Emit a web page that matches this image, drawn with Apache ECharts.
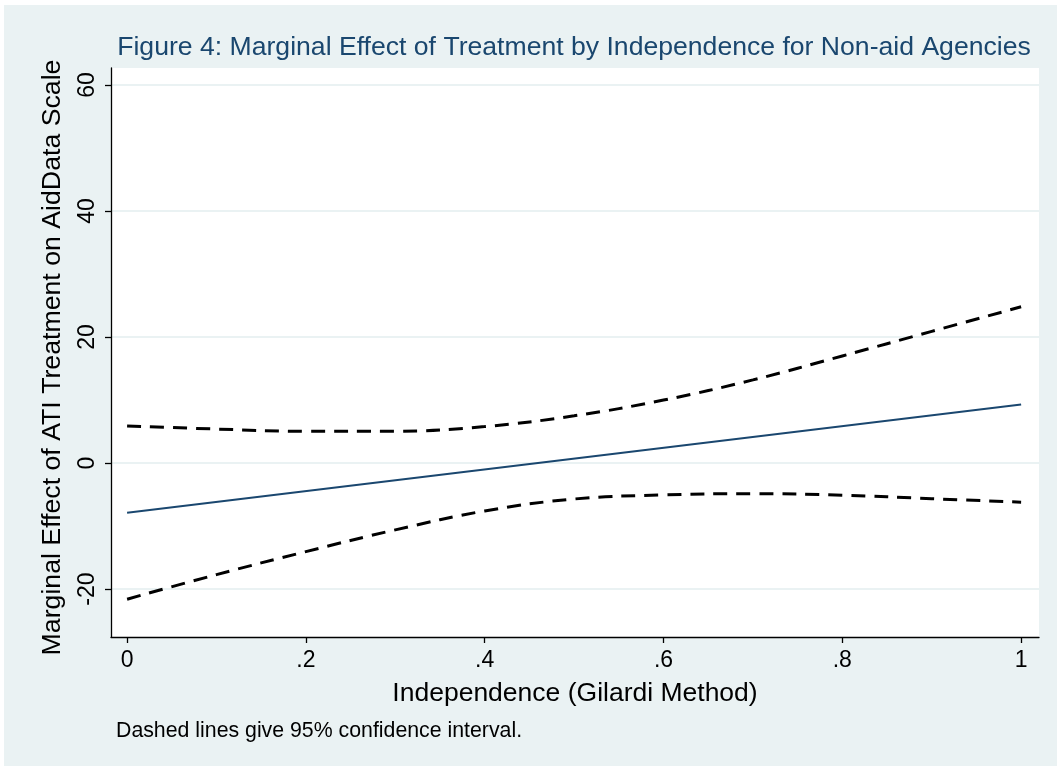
<!DOCTYPE html>
<html>
<head>
<meta charset="utf-8">
<script src="https://cdn.jsdelivr.net/npm/echarts@6/dist/echarts.min.js"></script>
<style>
  html, body { margin: 0; padding: 0; background: #ffffff; }
  #chart { width: 1057px; height: 767px; }
</style>
</head>
<body>
<div id="chart"></div>
<script>
// Independence values where the curves are evaluated
const independence = [0, 0.1, 0.2, 0.3, 0.4, 0.5, 0.6, 0.7, 0.8, 0.9, 1];
// Upper and lower bounds of the 95% confidence interval
const upperCI = [5.9, 5.4, 5.05, 5.05, 5.8, 7.5, 10.0, 13.2, 17.0, 20.9, 24.8];
const lowerCI = [-21.6, -17.7, -14.05, -10.6, -7.6, -5.7, -5.05, -4.85, -5.1, -5.65, -6.2];
// Marginal effect (straight line between its end points)
const effectX = [0, 1];
const effectY = [-7.9, 9.3];
// Tick positions
const xTicks = [0, 0.2, 0.4, 0.6, 0.8, 1];
const yTicks = [-20, 0, 20, 40, 60];

const titleText = 'Figure 4: Marginal Effect of Treatment by Independence for Non-aid Agencies';
const noteText = 'Dashed lines give 95% confidence interval.';
const xName = 'Independence (Gilardi Method)';
const yName = 'Marginal Effect of ATI Treatment on AidData Scale';

const pairs = (xs, ys) => xs.map((x, i) => [x, ys[i]]);

const font = '"Liberation Sans", Arial, Helvetica, sans-serif';

const chart = echarts.init(document.getElementById('chart'), null, { renderer: 'canvas' });

chart.setOption({
  backgroundColor: '#ffffff',
  animation: false,
  graphic: [{
    type: 'rect',
    z: -100,
    shape: { x: 4, y: 5, width: 1053, height: 761 },
    style: { fill: '#eaf2f3' },
    silent: true
  }],
  title: [{
    text: titleText,
    left: 574,
    textAlign: 'center',
    top: 34,
    padding: 0,
    textStyle: { fontFamily: font, fontSize: 26.6, fontWeight: 'normal', color: '#1a476f' }
  }, {
    text: noteText,
    left: 116,
    top: 721,
    padding: 0,
    textStyle: { fontFamily: font, fontSize: 21.3, fontWeight: 'normal', color: '#000000' }
  }],
  grid: {
    left: 111, right: 18, top: 68, bottom: 130,
    show: true, backgroundColor: '#ffffff', borderWidth: 0
  },
  xAxis: {
    type: 'value',
    min: -0.018, max: 1.02,
    name: xName,
    nameLocation: 'middle',
    nameGap: 43,
    nameTextStyle: { fontFamily: font, fontSize: 26.5, color: '#000000' },
    axisLine: { show: true, onZero: false, lineStyle: { color: '#000000', width: 1.3 } },
    axisTick: { show: true, length: 6, customValues: xTicks, lineStyle: { color: '#000000', width: 1.3 } },
    axisLabel: {
      customValues: xTicks, margin: 12,
      fontFamily: font, fontSize: 23, color: '#000000',
      formatter: v => (v === 0 || v === 1) ? String(v) : String(v).replace(/^0/, '')
    },
    splitLine: { show: false }
  },
  yAxis: {
    type: 'value',
    min: -27.6, max: 62.7,
    name: yName,
    nameLocation: 'middle',
    nameGap: 45,
    nameTextStyle: { fontFamily: font, fontSize: 26.7, color: '#000000', padding: [0, 10, 0, 0] },
    axisLine: { show: true, onZero: false, lineStyle: { color: '#000000', width: 1.3 } },
    axisTick: { show: true, length: 6, customValues: yTicks, lineStyle: { color: '#000000', width: 1.3 } },
    axisLabel: {
      customValues: yTicks, rotate: 90, margin: 12,
      fontFamily: font, fontSize: 23, color: '#000000'
    },
    splitLine: { show: true, lineStyle: { color: '#eaf2f3', width: 2 } }
  },
  series: [{
    type: 'line',
    data: pairs(effectX, effectY),
    showSymbol: false,
    lineStyle: { color: '#1a476f', width: 2 },
    z: 3
  }, {
    type: 'line',
    data: pairs(independence, upperCI),
    smooth: 0.4,
    showSymbol: false,
    lineStyle: { color: '#000000', width: 3, type: [14, 9] }
  }, {
    type: 'line',
    data: pairs(independence, lowerCI),
    smooth: 0.4,
    showSymbol: false,
    lineStyle: { color: '#000000', width: 3, type: [14, 9] }
  }]
});
</script>
</body>
</html>
